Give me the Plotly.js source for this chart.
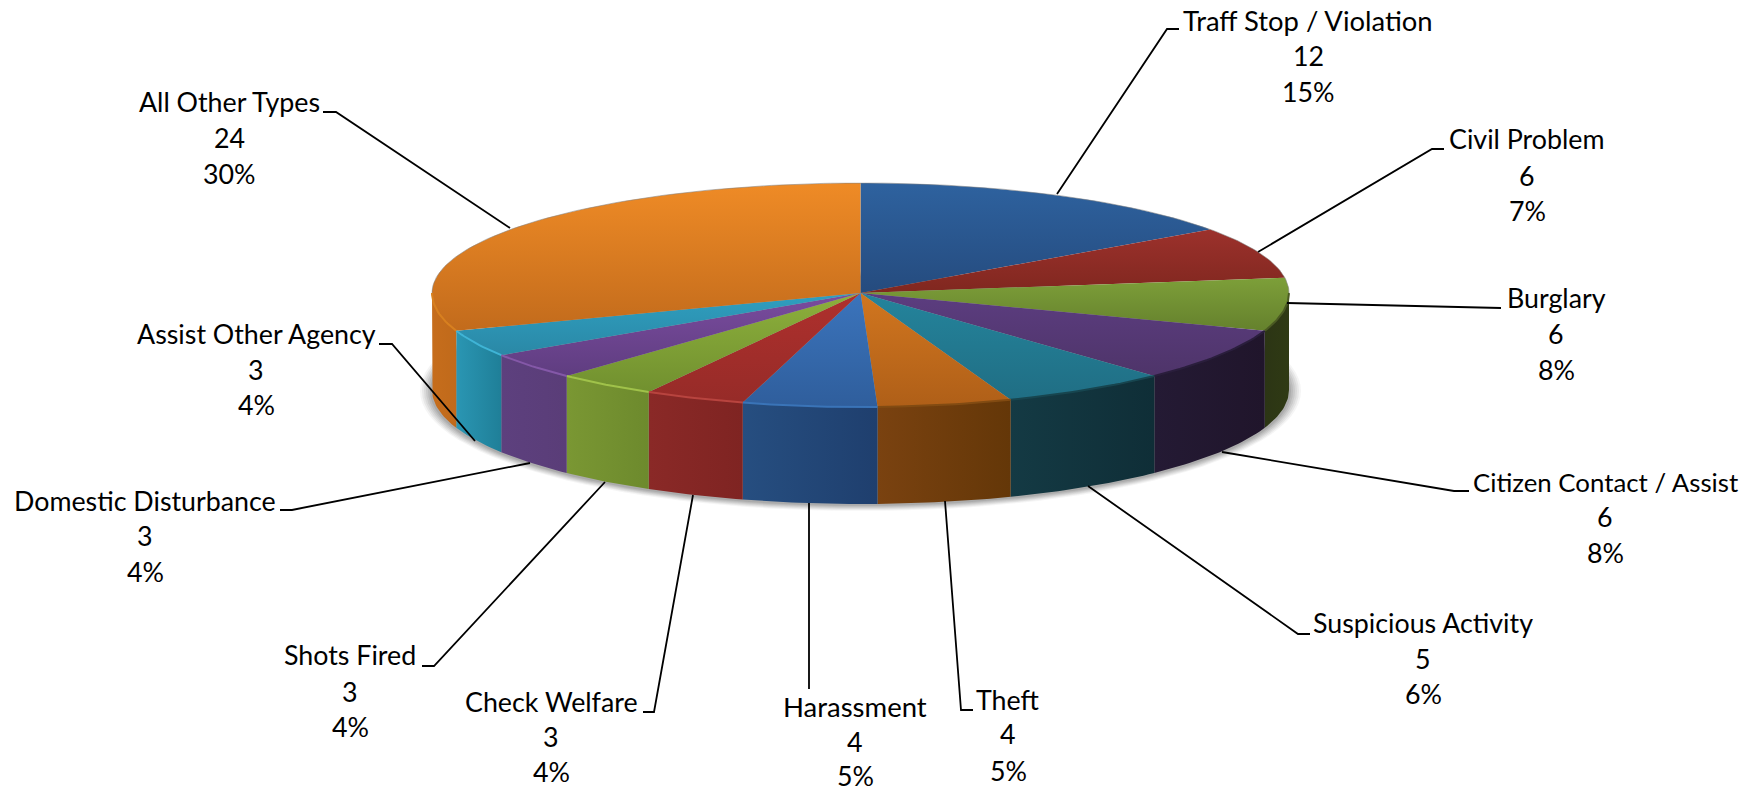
<!DOCTYPE html>
<html><head><meta charset="utf-8">
<script src="https://cdn.plot.ly/plotly-3.0.1.min.js"></script>
<style>html,body{margin:0;padding:0;background:#fff}</style></head>
<body><div id="chart" style="width:1758px;height:793px"></div>
<script>
// ---- data ----
var categories = ["Traff Stop / Violation","Civil Problem","Burglary","Citizen Contact / Assist","Suspicious Activity","Theft","Harassment","Check Welfare","Shots Fired","Domestic Disturbance","Assist Other Agency","All Other Types"];
var counts = [12,6,6,6,5,4,4,3,3,3,3,24];
var percentLabels = ["15%","7%","8%","8%","6%","5%","5%","4%","4%","4%","4%","30%"];

// ---- styles ----
var topFrom  = ["#2E629F","#9C312C","#7D9F39","#5C3D80","#24849C","#D1761F","#3B74BC","#AF302D","#8DB03C","#7A4C9F","#2F9FC0","#EF8B26"];
var topTo    = ["#254B7E","#80271F","#65812D","#4E3469","#206E84","#AF5F18","#2F5E9C","#962B28","#71902F","#5F3D80","#2A88A6","#C26B1C"];
var sideFrom = ["#000","#000","#2C3515","#241A34","#143A44","#7A4210","#264E80","#8A2927","#7A9733","#5D407E","#2A96B3","#C66D1C"];
var sideTo   = ["#000","#000","#2F3A14","#20152B","#0F2E37","#643708","#1F3F6E","#7F2422","#6D8A2D","#5A3D78","#1F7F98","#C06A1B"];
var rimCol   = ["#000","#000","#4A5A22","#2A1E3C","#17454F","#824B12","#3A74B8","#B8443F","#A0C24A","#8458A8","#3FB4D6","#D8801F"];
var labelSize = [27.4,26.8,26.8,25.8,26.8,26.8,27.5,26.8,26.8,26.8,26.8,26.8];

// ---- geometry ----
var cx=860.5, cy=293, rx=428.5, ryBack=110, ryFront=114, depth=97;
function pt(deg,dy){var t=deg*Math.PI/180,c=Math.cos(t);return [cx+rx*Math.sin(t), cy-(c>0?ryBack:ryFront)*c+(dy||0)];}
function arc(a,b,dy){var o=[],n=Math.max(2,Math.ceil(Math.abs(b-a)));for(var i=0;i<=n;i++){o.push(pt(a+(b-a)*i/n,dy));}return o;}
function xs(p){return p.map(function(d){return d[0]});}
function ys(p){return p.map(function(d){return d[1]});}
var total=counts.reduce(function(a,b){return a+b},0);
var traces=[];
function poly(p,extra){var t={type:'scatter',mode:'lines',x:xs(p),y:ys(p),fill:'toself',line:{width:0},hoverinfo:'skip',showlegend:false};for(var k in extra)t[k]=extra[k];traces.push(t);}

// soft shadow
[[12,.05],[10,.07],[8,.08],[6,.09],[4,.1],[2,.12]].forEach(function(s){
  var p=[];for(var d=0;d<=360;d+=3){var t=d*Math.PI/180;p.push([cx+(rx+s[0])*Math.sin(t),cy+depth+1-(ryFront+s[0]*.5)*Math.cos(t)]);}
  poly(p,{fillcolor:'rgba(60,60,60,'+s[1]+')'});
});

var a0=[],acc=0;counts.forEach(function(v){a0.push(acc/total*360);acc+=v;});
// side walls
counts.forEach(function(v,i){
  var a=Math.max(a0[i],90),b=Math.min(a0[i]+v/total*360,270);
  if(b<=a)return;
  var up=arc(a,b,0),lo=arc(b,a,depth),p=up.concat(lo);
  var x0=Math.min.apply(null,xs(p)),x1=Math.max.apply(null,xs(p));
  poly(p,{fillcolor:sideFrom[i],fillgradient:{type:'horizontal',start:x0,stop:x1,colorscale:[[0,sideFrom[i]],[1,sideTo[i]]]}});
});
// top faces
counts.forEach(function(v,i){
  var b=a0[i]+v/total*360,p=[[cx,cy]].concat(arc(a0[i],b,0));p.push([cx,cy]);
  var y=ys(p),y0=Math.min.apply(null,y),y1=Math.max.apply(null,y);
  poly(p,{fillcolor:topFrom[i],fillgradient:{type:'vertical',start:y0,stop:y1,colorscale:[[0,topFrom[i]],[1,topTo[i]]]}});
});
// rim highlight
counts.forEach(function(v,i){
  var a=Math.max(a0[i],90),b=Math.min(a0[i]+v/total*360,270);
  if(b<=a)return;
  var p=arc(a,b,0);
  traces.push({type:'scatter',mode:'lines',x:xs(p),y:ys(p),line:{width:2,color:rimCol[i]},hoverinfo:'skip',showlegend:false});
});
var back=arc(-90,90,0);
traces.push({type:'scatter',mode:'lines',x:xs(back),y:ys(back),line:{width:1,color:'rgba(130,130,130,.55)'},hoverinfo:'skip',showlegend:false});

// ---- labels ----
var labelX=[1308,1527,1556,1605,1423,1008,855,551,350,145,256,229];
var labelY=[[20,56,92],[138.5,175.5,210.5],[297.5,333.5,369.5],[481.5,516.5,552.5],[622.5,658.5,693.5],[699.5,733.5,770.5],[706.5,741.5,775.5],[701.5,736.5,771.5],[654.5,691.5,726.5],[500.5,535.5,571.5],[333.5,369.5,404.5],[102,138,174]];
var leaderX=[[1057,1167,1179],[1258,1432,1444],[1287,1487,1501],[1222,1454,1469],[1088,1298,1310],[945,961,973],[809,809],[693,654,643],[605,434,422],[530,292,280],[475,392,379],[510,336,323]];
var leaderY=[[194,29,29],[252,149,149],[303,308,308],[452,491,491],[486,634,634],[501,710,710],[503,689],[495,712,712],[482,666,666],[463,510,510],[441,344,344],[228,112,112]];
leaderX.forEach(function(lx,i){traces.push({type:'scatter',mode:'lines',x:lx,y:leaderY[i],line:{width:1.8,color:'#000'},hoverinfo:'skip',showlegend:false});});

var annotations=[];
categories.forEach(function(c,i){
  [c,String(counts[i]),percentLabels[i]].forEach(function(txt,j){
    annotations.push({x:labelX[i],y:labelY[i][j],xref:'x',yref:'y',text:txt,showarrow:false,xanchor:'center',yanchor:'middle',font:{family:'Lato, sans-serif',size:j===0?labelSize[i]:26.8,color:'#000'}});
  });
});

Plotly.newPlot('chart',traces,{
  width:1758,height:793,margin:{l:0,r:0,t:0,b:0},paper_bgcolor:'#fff',plot_bgcolor:'#fff',showlegend:false,
  xaxis:{range:[0,1758],visible:false,fixedrange:true},
  yaxis:{range:[793,0],visible:false,fixedrange:true},
  annotations:annotations
},{displayModeBar:false,staticPlot:true});
</script></body></html>
